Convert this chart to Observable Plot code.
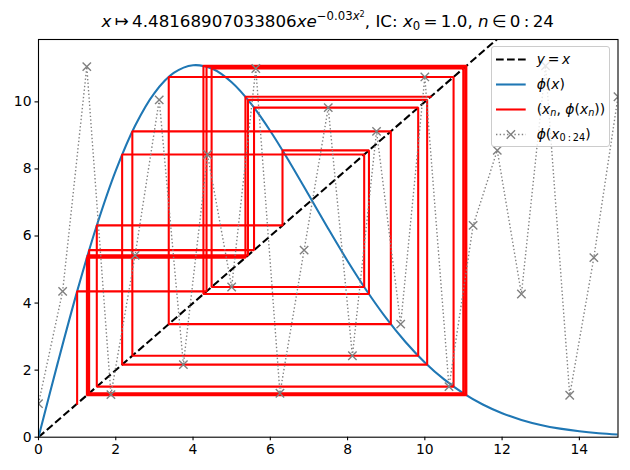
<!DOCTYPE html>
<html>
<head>
<meta charset="utf-8">
<script src="https://cdn.jsdelivr.net/npm/d3@7"></script>
<script src="https://cdn.jsdelivr.net/npm/@observablehq/plot@0.6"></script>
<style>
  body { margin: 0; background: #fff; }
  #wrap { position: relative; width: 630px; height: 470px; font-family: "DejaVu Sans", sans-serif; color: #000; overflow: hidden; }
  #title { position: absolute; left: 38px; width: 579.5px; top: 10.9px; text-align: center; font-size: 16.7px; line-height: 20px; white-space: nowrap; }
  .m { font-style: italic; }
  .sup { position: relative; font-size: 70%; top: -0.55em; }
  .sup2 { position: relative; font-size: 70%; top: -0.45em; }
  .sub { position: relative; font-size: 70%; top: 0.25em; }
  #legend { position: absolute; left: 491px; top: 46px; width: 119px; height: 101px; box-sizing: border-box;
            border: 1.1px solid #cccccc; border-radius: 3px; background: rgba(255,255,255,0.8); }
  .lrow { position: absolute; left: 0; width: 119px; height: 16px; }
  .lrow svg { position: absolute; left: 4px; top: 0; }
  .lrow .lt { position: absolute; left: 44.7px; top: 0; font-size: 13.9px; line-height: 16px; white-space: nowrap; }
</style>
</head>
<body>
<div id="wrap">
  <div id="chart"></div>
  <div id="title"><span class="m">x</span>&#8201;↦&#8201;4.48168907033806<span class="m">xe</span><span class="sup">−0.03<span class="m">x</span><span class="sup2">2</span></span>, IC: <span class="m">x</span><span class="sub">0</span>&#8201;=&#8201;1.0, <span class="m">n</span>&#8201;∈&#8201;0&#8201;:&#8201;24</div>
  <div id="legend"></div>
</div>
<script>
// Iterates x_n, n = 0..24
const xn = [1.0, 4.3492, 11.0510, 1.2697, 5.4216, 10.0601, 2.1650, 8.4301, 4.4808, 10.9954,
            1.3107, 5.5789, 9.8282, 2.4289, 9.1198, 3.3714, 10.7439, 1.5089, 6.3159, 8.5535,
            4.2693, 11.0745, 1.2527, 5.3562, 10.1512];
// Horizontal positions of the orbit markers (0..15 in 25 steps)
const tPos = [0, 0.625, 1.25, 1.875, 2.5, 3.125, 3.75, 4.375, 5, 5.625, 6.25, 6.875, 7.5,
              8.125, 8.75, 9.375, 10, 10.625, 11.25, 11.875, 12.5, 13.125, 13.75, 14.375, 15];
// phi(x) curve samples
const phiX = [0, 0.5, 1, 1.5, 2, 2.5, 3, 3.5, 4, 4.5, 5, 5.5, 6, 6.5, 7, 7.5, 8, 8.5, 9, 9.5,
              10, 10.5, 11, 11.5, 12, 12.5, 13, 13.5, 14, 14.5, 15];
const phiY = [0, 2.2241, 4.3492, 6.2837, 7.9498, 9.2886, 10.2637, 10.8619, 11.0928, 10.9855,
              10.585, 9.9468, 9.1318, 8.2014, 7.2132, 6.2177, 5.2564, 4.3604, 3.5510, 2.8400,
              2.2313, 1.7227, 1.3072, 0.9752, 0.7155, 0.5159, 0.3660, 0.2554, 0.1754, 0.1184, 0.0787];
// identity line end points
const diagX = [0, 15];
const xTicks = [0, 2, 4, 6, 8, 10, 12, 14];
const yTicks = [0, 2, 4, 6, 8, 10];
const xDomain = [0, 15];
const yDomain = [0, 11.86];

const curveData = phiX.map((x, i) => ({x, y: phiY[i]}));
const cobweb = [{x: xn[0], y: xn[0]}];
for (let i = 0; i < xn.length - 1; i++) {
  cobweb.push({x: xn[i], y: xn[i + 1]});
  cobweb.push({x: xn[i + 1], y: xn[i + 1]});
}
const orbit = xn.map((v, i) => ({t: tPos[i], v}));

const chart = Plot.plot({
  width: 630,
  height: 470,
  marginTop: 39,
  marginRight: 12.5,
  marginBottom: 33.3,
  marginLeft: 38,
  style: {fontFamily: '"DejaVu Sans", sans-serif', fontSize: "13.9px", color: "black", background: "white", overflow: "visible"},
  x: {domain: xDomain},
  y: {domain: yDomain},
  marks: [
    Plot.line(diagX, {x: d => d, y: d => d, stroke: "black", strokeWidth: 2.08, strokeDasharray: "7.7,3.3", strokeLinecap: "butt", clip: true}),
    Plot.line(curveData, {x: "x", y: "y", stroke: "#1f77b4", strokeWidth: 2.08, curve: "catmull-rom", clip: true}),
    Plot.line(cobweb, {x: "x", y: "y", stroke: "red", strokeWidth: 2.08, strokeLinejoin: "miter", strokeLinecap: "square", clip: true}),
    Plot.line(orbit, {x: "t", y: "v", stroke: "gray", strokeWidth: 1.39, strokeDasharray: "1.39,2.29", strokeLinecap: "butt", clip: true}),
    Plot.dot(orbit, {x: "t", y: "v", symbol: "times", r: 3.9, stroke: "gray", strokeWidth: 1.39, clip: true}),
    Plot.frame({stroke: "black", strokeWidth: 1.1}),
    Plot.axisX({ticks: xTicks, tickSize: 3.5, tickPadding: 3.5, label: null, strokeWidth: 1.1}),
    Plot.axisY({ticks: yTicks, tickSize: 3.5, tickPadding: 3.5, label: null, strokeWidth: 1.1})
  ]
});
document.getElementById("chart").appendChild(chart);

// Legend
const legendItems = [
  {kind: "dash", html: '<span class="m">y</span>&#8201;=&#8201;<span class="m">x</span>'},
  {kind: "blue", html: '<span class="m">ϕ</span>(<span class="m">x</span>)'},
  {kind: "red", html: '(<span class="m">x</span><span class="sub m">n</span>, <span class="m">ϕ</span>(<span class="m">x</span><span class="sub m">n</span>))'},
  {kind: "orbit", html: '<span class="m">ϕ</span>(<span class="m">x</span><span class="sub">0&#8201;:&#8201;24</span>)'}
];
const legend = document.getElementById("legend");
const rowCenters = [12.7, 37, 62, 87.5];
legendItems.forEach((it, i) => {
  const row = document.createElement("div");
  row.className = "lrow";
  row.style.top = (rowCenters[i] - 8.5) + "px";
  let sw = "";
  const y = 8.5;
  if (it.kind === "dash") sw = `<line x1="0" y1="${y}" x2="29.7" y2="${y}" stroke="black" stroke-width="2.08" stroke-dasharray="7.7,3.3"/>`;
  if (it.kind === "blue") sw = `<line x1="0" y1="${y}" x2="29.7" y2="${y}" stroke="#1f77b4" stroke-width="2.08"/>`;
  if (it.kind === "red") sw = `<line x1="0" y1="${y}" x2="29.7" y2="${y}" stroke="red" stroke-width="2.08"/>`;
  if (it.kind === "orbit") sw = `<line x1="0" y1="${y}" x2="29.7" y2="${y}" stroke="gray" stroke-width="1.39" stroke-dasharray="1.39,2.29"/>` +
     `<path d="M${14.85-4.17},${y-4.17}L${14.85+4.17},${y+4.17}M${14.85-4.17},${y+4.17}L${14.85+4.17},${y-4.17}" stroke="gray" stroke-width="1.39"/>`;
  row.innerHTML = `<svg width="32" height="17">${sw}</svg><div class="lt">${it.html}</div>`;
  legend.appendChild(row);
});
</script>
</body>
</html>
